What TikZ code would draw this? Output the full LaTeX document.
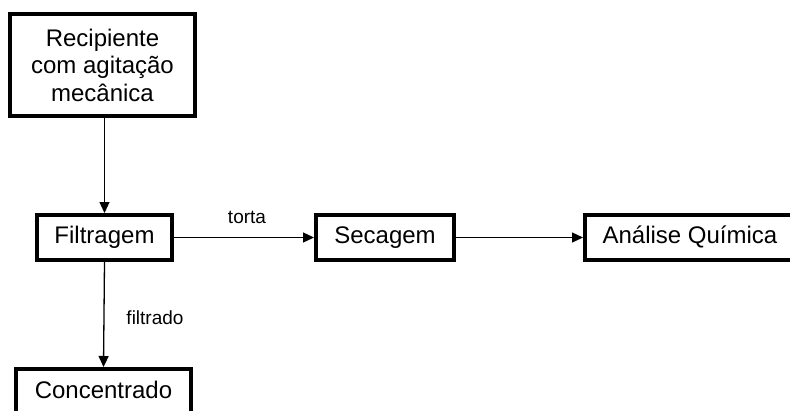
\documentclass[tikz,border=0pt]{standalone}
\usepackage{fontspec}
\setmainfont{Liberation Sans}
\usetikzlibrary{arrows.meta}
\begin{document}
\begin{tikzpicture}[x=1pt,y=-1pt,
  procbox/.style={draw=black, line width=4pt, fill=white, inner sep=0pt,
    font=\fontsize{24}{27.5}\selectfont, align=center},
  onerow/.style={text height=17pt, text depth=5pt},
  flow/.style={draw=black, line width=1.3pt, -{Triangle[length=11pt,width=10pt]}},
  flowlabel/.style={font=\fontsize{19}{21}\selectfont, inner sep=0pt}]
  \useasboundingbox (0,0) rectangle (790,410);
  \clip (0,0) rectangle (790,410);
  \fill[white] (0,0) rectangle (790,410);

  % process boxes
  \node[procbox, minimum width=185pt, minimum height=102pt] (rec) at (102.5,65)
    {Recipiente\\com agitação\\mecânica};
  \node[procbox, onerow, minimum width=135pt, minimum height=45pt] (fil) at (104.5,237.5) {Filtragem};
  \node[procbox, onerow, minimum width=138pt, minimum height=45pt] (sec) at (385,237.5) {Secagem};
  \node[procbox, onerow, minimum width=210pt, minimum height=45pt] (ana) at (690,237.5) {Análise Química};
  \node[procbox, onerow, minimum width=175pt, minimum height=46pt] (con) at (103.5,392) {Concentrado};

  % connectors
  \draw[flow] (fil.north |- rec.south) -- (fil.north);
  \draw[flow] (fil.east) -- (sec.west);
  \draw[flow] (sec.east) -- (ana.west);
  \draw[flow] (fil.south) -- (con.north);

  % stream labels
  \node[flowlabel] (ltorta) at (247,217) {torta};
  \node[flowlabel] (lfiltrado) at (155,318) {filtrado};
\end{tikzpicture}
\end{document}
